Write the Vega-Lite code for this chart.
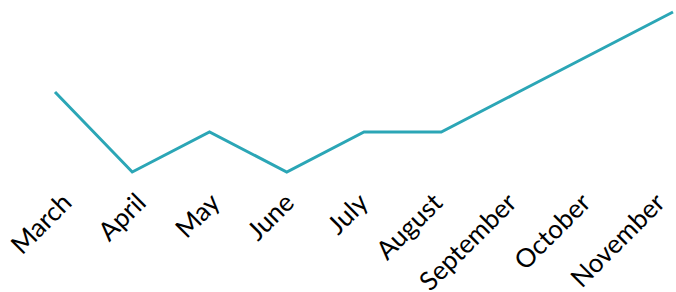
{
  "$schema": "https://vega.github.io/schema/vega-lite/v6.json",
  "width": 676,
  "height": 175,
  "padding": {"top": 12, "left": 0, "right": 0, "bottom": 105},
  "autosize": {"type": "none"},
  "background": "white",
  "config": {"view": {"stroke": null}},
  "data": {"values": [
    {"month": "March", "value": 3},
    {"month": "April", "value": 1},
    {"month": "May", "value": 2},
    {"month": "June", "value": 1},
    {"month": "July", "value": 2},
    {"month": "August", "value": 2},
    {"month": "September", "value": 3},
    {"month": "October", "value": 4},
    {"month": "November", "value": 5}
  ]},
  "layer": [
    {
      "mark": {"type": "line", "color": "#2ba6b6", "strokeWidth": 3, "clip": false},
      "encoding": {
        "x": {"field": "month", "type": "ordinal", "sort": null, "scale": {"type": "point", "range": [55, 673], "padding": 0}, "axis": null},
        "y": {"field": "value", "type": "quantitative", "scale": {"domain": [0.625, 5], "nice": false, "zero": false}, "axis": null}
      }
    },
    {
      "mark": {"type": "point", "opacity": 0},
      "encoding": {
        "x": {"field": "month", "type": "ordinal", "sort": null, "scale": {"type": "point", "range": [58, 651], "padding": 0},
          "axis": {"title": null, "labelAngle": -45, "labelFont": "Lato", "labelFontSize": 26, "labelColor": "#000000", "ticks": false, "domain": false, "grid": false, "labelPadding": 2, "labelOverlap": false, "labelBound": false, "labelFlush": false}},
        "y": {"field": "value", "type": "quantitative", "axis": null, "scale": {"domain": [0.625, 5], "nice": false, "zero": false}}
      }
    }
  ],
  "resolve": {"scale": {"x": "independent"}}
}
